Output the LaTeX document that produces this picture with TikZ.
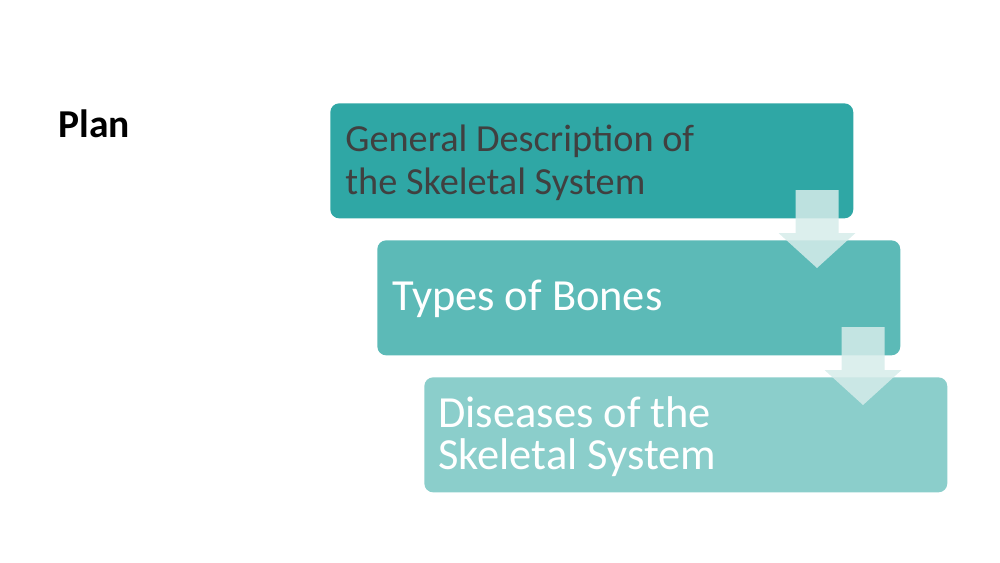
\documentclass[tikz,border=0pt]{standalone}
\usepackage{fontspec}
\setmainfont{Carlito}
\usetikzlibrary{positioning,calc}

\definecolor{tealA}{RGB}{47,167,165}
\definecolor{tealB}{RGB}{92,186,183}
\definecolor{tealC}{RGB}{139,206,203}
\definecolor{arrowfill}{RGB}{214,236,234}
\definecolor{darktext}{RGB}{64,64,64}

\begin{document}
\begin{tikzpicture}[
    x=0.02cm, y=-0.02cm,
    stepbox/.style={rectangle, rounded corners=5pt, minimum width=10.46cm, minimum height=2.3cm, inner sep=0pt},
    steptext/.style={anchor=west, align=left, inner sep=0pt, font=\fontsize{25.3}{23.8}\selectfont},
    downarrow/.style={fill=arrowfill, fill opacity=0.85},
]
\useasboundingbox (0,0) rectangle (1000,562);

% Title
\node[anchor=base west, inner sep=0pt, font=\bfseries\fontsize{22.5}{26}\selectfont] (title) at (58,137) {Plan};

% Blocks
\node[stepbox, fill=tealA, anchor=north west] (general) at (330,103) {};
\node[stepbox, fill=tealB, anchor=north west] (types) at (377,240) {};
\node[stepbox, fill=tealC, anchor=north west] (diseases) at (424,377) {};

% Texts
\node[steptext, text=darktext, font=\fontsize{21.8}{24.3}\selectfont] (generaltext) at ($(general.west)+(15,2)$) {General Description of\\the Skeletal System};
\node[steptext, text=white] (typestext) at ($(types.west)+(15,1)$) {Types of Bones};
\node[steptext, text=white] (diseasestext) at ($(diseases.west)+(14,2)$) {Diseases of the\\Skeletal System};

% Arrows
\newcommand{\blockarrow}[2]{%
  \fill[downarrow] (#1-21.5,#2) -- (#1+21.5,#2) -- (#1+21.5,#2+43) -- (#1+38.5,#2+43)
    -- (#1,#2+78) -- (#1-38.5,#2+43) -- (#1-21.5,#2+43) -- cycle;}
\blockarrow{817}{190}
\blockarrow{863}{327}

\end{tikzpicture}
\end{document}
